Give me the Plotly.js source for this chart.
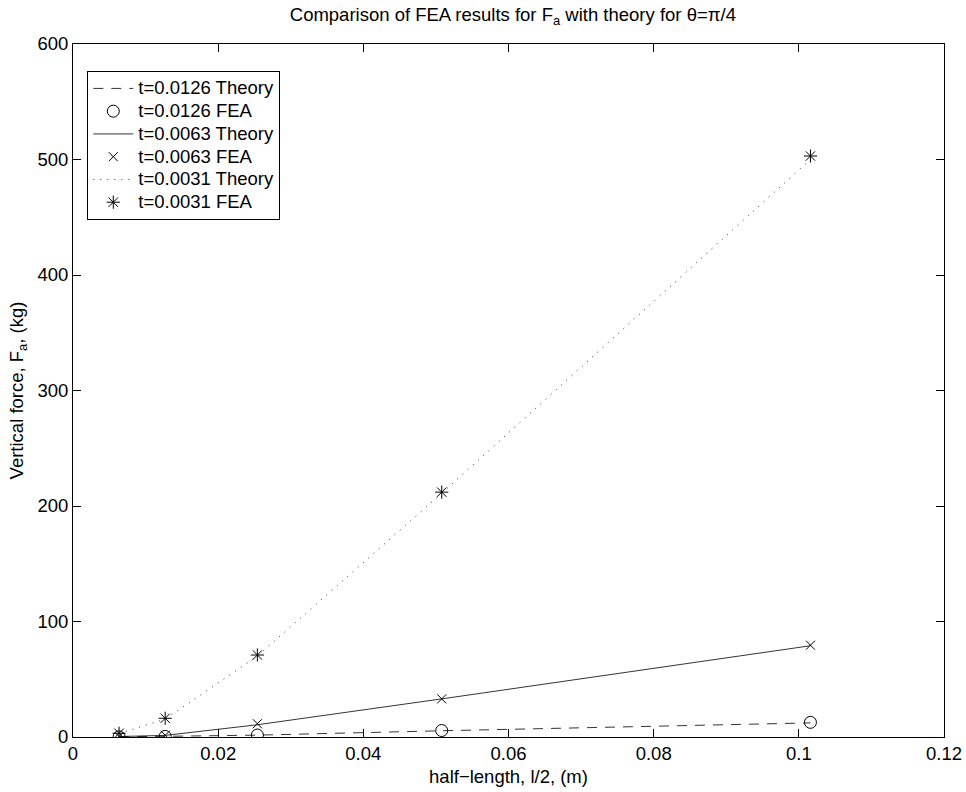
<!DOCTYPE html>
<html>
<head>
<meta charset="utf-8">
<script src="https://cdn.plot.ly/plotly-3.0.1.min.js"></script>
<style>html,body{margin:0;padding:0;background:#fff;}#chart{width:966px;height:792px;}</style>
</head>
<body>
<div id="chart"></div>
<script>
const halfLength = [0.00635, 0.0127, 0.0254, 0.0508, 0.1016];
const theory0126 = [0.1, 0.4, 1.6, 5.4, 12.2];
const fea0126 = [0.1, 0.5, 1.7, 5.6, 12.7];
const theory0063 = [0.4, 1.4, 10.6, 33.0, 79.0];
const fea0063 = [0.4, 1.5, 11.5, 33.0, 79.5];
const theory0031 = [3.0, 15.5, 70.0, 211.0, 500.0];
const fea0031 = [3.2, 16.2, 71.0, 212.0, 503.0];
const seriesNames = ['t=0.0126 Theory','t=0.0126 FEA','t=0.0063 Theory','t=0.0063 FEA','t=0.0031 Theory','t=0.0031 FEA'];
const xTicks = [0, 0.02, 0.04, 0.06, 0.08, 0.1, 0.12];
const xTickText = ['0','0.02','0.04','0.06','0.08','0.1','0.12'];
const yTicks = [0, 100, 200, 300, 400, 500, 600];

const big = s => '<span style="font-size:18.5px">' + s + '</span>';
const lineT = (y, name, dash) => ({x: halfLength, y: y, name: big(name), type: 'scatter', mode: 'lines',
  line: {color: '#000', width: 0.8, dash: dash}});
const markT = (y, name, sym, size) => ({x: halfLength, y: y, name: big(name), type: 'scatter', mode: 'markers',
  marker: {symbol: sym, size: size, color: '#000', line: {color: '#000', width: 1}}});

const data = [
  lineT(theory0126, seriesNames[0], '10px,8px'),
  markT(fea0126, seriesNames[1], 'circle-open', 12),
  lineT(theory0063, seriesNames[2], 'solid'),
  markT(fea0063, seriesNames[3], 'x-thin-open', 9),
  lineT(theory0031, seriesNames[4], '1px,6px'),
  markT(fea0031, seriesNames[5], 'asterisk-open', 11)
];

const fam = 'Liberation Sans, Arial, Helvetica, sans-serif';
const font = {family: fam, size: 18.5, color: '#000'};
const layout = {
  width: 966, height: 792,
  margin: {l: 73, r: 22, t: 44, b: 55},
  paper_bgcolor: '#fff', plot_bgcolor: '#fff',
  font: font,
  showlegend: true,
  title: {text: 'Comparison of FEA results for F<sub>a</sub> with theory for θ=π/4', font: {size: 18.5, family: fam, color: '#000'}, xref: 'paper', x: 0.505, xanchor: 'center', y: 0.982, yanchor: 'middle'},
  xaxis: {
    range: [0, 0.12], tickvals: xTicks, ticktext: xTickText,
    ticks: 'inside', ticklen: 8, tickcolor: '#000', tickwidth: 1,
    showline: true, linecolor: '#000', linewidth: 1, mirror: 'ticks',
    showgrid: false, zeroline: false,
    title: {text: 'half−length, l/2, (m)', font: {size: 18.5}, standoff: 6}
  },
  yaxis: {
    range: [0, 600], tickvals: yTicks,
    ticks: 'inside', ticklen: 8, tickcolor: '#000', tickwidth: 1,
    showline: true, linecolor: '#000', linewidth: 1, mirror: 'ticks',
    showgrid: false, zeroline: false,
    title: {text: 'Vertical force, F<sub>a</sub>, (kg)', font: {size: 18.5}, standoff: 8}
  },
  legend: {
    x: 0.0164, y: 0.961, xanchor: 'left', yanchor: 'top',
    bgcolor: '#fff', bordercolor: '#000', borderwidth: 1,
    font: {size: 15.2, family: fam, color: '#000'},
    itemwidth: 40, tracegroupgap: 0
  }
};
Plotly.newPlot('chart', data, layout, {displayModeBar: false, staticPlot: true});
</script>
</body>
</html>
